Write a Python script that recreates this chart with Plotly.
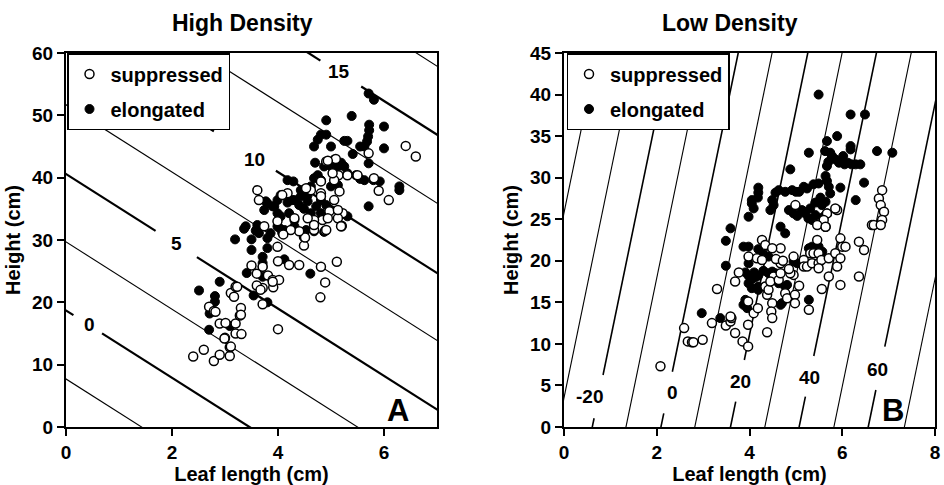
import plotly.graph_objects as go

# ---------------- Panel A (High Density) data ----------------
A_supp_x = [2.40, 2.60, 2.79, 2.90, 3.09, 3.09, 3.00, 3.20, 3.31, 2.90, 3.01, 3.20, 3.28, 3.30, 2.70, 2.79,
            3.11, 3.20, 3.17, 4.00, 3.71, 3.71, 3.91, 3.60, 3.60, 3.81, 3.90, 4.02, 3.71, 3.50, 4.00, 4.21,
            4.40, 4.81, 5.11, 4.89, 4.80, 3.99, 4.49, 4.49, 4.89, 5.20, 6.41, 6.60, 5.71, 5.09, 4.91, 5.14,
            5.31, 5.50, 5.81, 5.90, 6.09, 5.06, 5.22, 5.13, 5.20, 4.84, 4.91, 4.68, 4.68, 4.51, 4.40, 4.24,
            4.10, 4.18, 4.08, 3.64, 3.61, 3.74, 4.31, 4.81, 5.06, 5.03, 4.62, 4.81, 5.16, 3.99, 3.90, 3.67,
            3.23, 3.30, 2.82, 2.99, 3.11, 4.53, 4.81, 4.94, 4.97, 5.13, 4.56, 4.68, 4.94, 5.19]
A_supp_y = [11.3, 12.4, 10.6, 11.6, 11.4, 12.8, 14.3, 15.0, 14.9, 16.6, 16.7, 16.6, 17.9, 19.1, 19.3, 18.6,
            21.5, 22.5, 20.9, 15.7, 19.7, 22.3, 22.4, 22.7, 24.6, 24.3, 23.6, 23.6, 25.7, 25.9, 26.6, 26.0,
            26.0, 25.7, 26.5, 23.2, 20.8, 28.9, 29.1, 30.5, 31.5, 32.2, 45.1, 43.4, 43.9, 43.0, 42.6, 40.4,
            40.4, 40.4, 39.9, 37.9, 36.4, 36.4, 34.3, 33.5, 32.3, 33.2, 31.6, 33.2, 31.6, 30.4, 31.4, 31.6,
            30.9, 37.5, 37.2, 36.4, 38.0, 32.2, 33.5, 39.4, 39.6, 40.7, 38.0, 37.5, 37.8, 33.0, 23.3, 22.0,
            22.5, 18.0, 18.5, 14.2, 12.9, 38.3, 37.0, 42.7, 34.6, 34.8, 33.5, 32.4, 33.5, 32.2]

A_elong_x = [5.71, 5.81, 4.91, 5.39, 6.00, 5.72, 5.72, 5.70, 5.68, 5.63, 5.55, 6.00, 5.41, 5.71, 5.25, 5.31,
             5.00, 4.81, 4.75, 4.68, 4.91, 4.70, 5.19, 5.25, 5.31, 5.06, 5.00, 4.87, 5.47, 5.63, 5.92, 6.29,
             6.29, 5.71, 4.18, 4.29, 4.68, 4.81, 5.00, 5.13, 4.62, 4.43, 4.43, 4.31, 4.18, 4.56, 4.72, 4.81,
             4.91, 4.49, 4.62, 4.81, 5.31, 4.21, 4.31, 4.05, 3.99, 3.93, 3.99, 3.80, 3.74, 3.61, 3.64, 3.99,
             4.12, 4.08, 3.86, 3.80, 3.39, 3.60, 3.50, 3.19, 3.50, 3.80, 3.71, 3.71, 3.71, 4.12, 3.41, 3.71,
             3.54, 3.80, 4.61, 2.51, 2.90, 2.81, 2.81, 2.71, 2.70, 3.09, 4.68, 3.77, 3.90, 4.05, 4.27, 4.40,
             4.56, 4.75, 5.03, 5.13, 3.36, 3.58, 4.03, 4.31, 4.53, 4.87, 5.55, 5.80]
A_elong_y = [53.5, 52.5, 49.2, 49.9, 48.2, 48.5, 47.6, 46.6, 45.8, 45.0, 45.0, 44.7, 43.8, 42.3, 45.9, 45.9,
             45.0, 46.9, 46.1, 45.0, 46.9, 42.4, 42.4, 41.8, 40.7, 42.9, 41.8, 41.8, 40.4, 39.6, 39.4, 38.6,
             38.0, 35.4, 39.6, 39.4, 39.9, 39.6, 38.6, 38.8, 38.6, 38.0, 37.0, 36.4, 36.0, 36.2, 35.4, 36.4,
             35.6, 35.0, 34.3, 34.3, 33.8, 34.3, 33.2, 33.8, 34.3, 35.4, 36.4, 35.9, 34.8, 32.4, 31.1, 32.2,
             31.6, 31.1, 31.1, 30.3, 32.2, 31.7, 30.1, 30.1, 28.4, 28.7, 27.3, 26.3, 25.7, 26.9, 24.7, 24.1,
             21.1, 20.0, 24.6, 21.9, 23.3, 21.0, 20.1, 18.2, 15.6, 16.2, 31.4, 36.2, 35.4, 37.2, 36.4, 35.6,
             37.2, 40.4, 42.6, 41.8, 31.8, 31.5, 31.9, 32.2, 31.6, 31.3, 39.8, 39.6]

# contour lines of panel A: level, height at leaf length 0, common slope
A_levels = [-2.5, 0, 2.5, 5, 7.5, 10, 12.5, 15, 17.5]
A_intercepts = [7.7, 18.7, 29.7, 40.6, 51.7, 62.5, 73.7, 84.7, 95.7]
A_slope = -5.4
A_label_levels = [0, 5, 10, 15]
A_label_x = [0.45, 2.08, 3.55, 5.15]
A_label_y = [16.4, 29.5, 42.9, 57.0]
A_gap_lo = [0.14, 1.69, 2.79, 4.80]   # leaf length where line is interrupted
A_gap_hi = [0.68, 2.47, 3.96, 5.57]

# ---------------- Panel B (Low Density) data ----------------
B_supp_x = [2.08, 2.59, 2.67, 2.76, 2.79, 2.99, 3.19, 3.30, 3.49, 3.59, 3.61, 3.69, 3.59, 3.69, 3.77, 3.85,
            3.97, 3.97, 4.09, 4.18, 3.97, 4.38, 3.98, 4.16, 4.27, 4.34, 4.38, 4.41, 4.49, 4.47, 4.49, 4.52,
            4.45, 4.63, 4.67, 4.67, 4.67, 4.77, 4.81, 4.98, 4.98, 4.95, 4.95, 4.99, 5.17, 5.17, 5.24, 5.31,
            5.38, 5.28, 5.35, 5.49, 5.46, 5.49, 5.55, 5.49, 5.56, 5.49, 5.64, 5.67, 5.71, 5.71, 5.89, 5.85,
            5.89, 5.96, 6.00, 6.07, 5.96, 5.96, 6.36, 6.47, 6.36, 6.64, 6.86, 6.79, 6.83, 6.90, 6.86, 6.68,
            6.83, 4.88, 4.27, 4.34, 4.49, 5.85, 5.67, 5.60, 5.46, 5.64, 4.57, 4.72, 5.07, 4.85]
B_supp_y = [7.3, 11.9, 10.3, 10.2, 10.2, 10.5, 12.5, 16.6, 12.2, 12.7, 13.1, 11.3, 13.3, 17.5, 18.6, 10.3,
            9.7, 12.3, 13.7, 14.3, 15.1, 11.4, 20.5, 20.3, 20.1, 16.9, 15.9, 16.5, 14.9, 13.9, 13.1, 18.1,
            17.5, 17.7, 18.5, 19.7, 21.5, 16.1, 15.5, 15.9, 14.9, 18.3, 20.5, 26.7, 20.1, 19.3, 19.3, 20.9,
            20.9, 14.1, 19.7, 19.7, 22.5, 20.9, 20.1, 19.1, 16.6, 24.5, 24.1, 25.7, 20.3, 18.1, 26.1, 20.9,
            19.3, 22.7, 21.7, 21.7, 20.3, 17.1, 22.3, 21.3, 18.1, 24.3, 28.5, 27.5, 26.7, 25.9, 24.9, 24.3,
            24.3, 18.5, 22.5, 21.9, 21.5, 26.3, 25.7, 24.9, 24.3, 24.1, 20.2, 20.0, 17.0, 19.0]

B_elong_x = [5.49, 6.18, 6.49, 5.67, 5.89, 5.28, 6.75, 7.08, 6.18, 6.18, 5.63, 5.74, 5.78, 5.85, 5.93, 6.02,
             6.05, 6.12, 6.20, 6.29, 6.39, 5.70, 5.67, 6.47, 6.29, 4.88, 5.96, 5.64, 5.67, 5.49, 5.38, 5.24,
             5.17, 4.92, 5.00, 5.07, 4.63, 4.56, 4.77, 4.19, 4.19, 4.18, 4.05, 4.09, 4.05, 4.49, 4.52, 4.45,
             4.85, 4.95, 5.03, 5.13, 5.20, 5.27, 5.35, 5.42, 5.49, 5.56, 5.60, 4.67, 4.77, 3.98, 5.71, 5.74,
             5.53, 5.42, 5.31, 5.56, 5.64, 3.59, 3.49, 3.49, 3.87, 3.98, 3.98, 4.19, 4.26, 3.91, 3.98, 4.05,
             4.12, 4.19, 3.98, 4.05, 4.19, 4.19, 4.41, 4.49, 4.56, 4.63, 4.77, 4.81, 4.67, 4.70, 3.91, 3.87,
             3.95, 2.97, 3.37, 5.28, 5.28, 5.35, 5.42, 5.49, 4.95, 5.03, 5.57, 4.41, 4.30, 4.10]
B_elong_y = [40.0, 37.6, 37.6, 34.4, 35.0, 33.0, 33.2, 33.0, 33.8, 33.4, 33.2, 33.0, 32.6, 32.2, 31.8, 32.6,
             31.6, 31.8, 31.6, 31.6, 31.6, 31.9, 31.4, 29.4, 27.3, 31.0, 28.8, 30.2, 29.6, 29.3, 29.2, 28.7,
             28.9, 28.5, 28.3, 28.3, 28.5, 28.2, 28.3, 28.8, 28.2, 27.6, 26.9, 26.3, 27.3, 27.3, 26.7, 26.1,
             26.1, 25.7, 25.4, 26.1, 25.7, 25.1, 24.9, 25.5, 25.1, 24.9, 25.3, 24.1, 23.3, 25.3, 28.9, 28.1,
             27.6, 27.0, 26.3, 26.7, 27.1, 23.9, 22.4, 19.4, 21.7, 21.7, 19.7, 21.4, 21.1, 18.6, 18.2, 17.8,
             18.0, 18.2, 17.3, 16.7, 16.9, 16.5, 18.5, 18.7, 18.5, 17.3, 16.9, 17.1, 14.7, 14.9, 15.3, 14.7,
             14.3, 13.7, 13.1, 15.3, 21.5, 21.7, 21.5, 21.7, 19.9, 19.7, 21.1, 20.5, 18.8, 18.6]

# contour lines of panel B: level, leaf length at height 0, common slope (height per cm)
B_levels = [-40, -30, -20, -10, 0, 10, 20, 30, 40, 50, 60, 70]
B_x0 = [-0.955, -0.13, 0.61, 1.336, 2.09, 2.82, 3.59, 4.33, 5.07, 5.82, 6.56, 7.34]
B_slope = 27.0
B_label_levels = [-20, 0, 20, 40, 60]
B_label_x = [0.56, 2.33, 3.81, 5.30, 6.75]
B_label_y = [3.65, 4.13, 5.45, 5.93, 6.94]
B_gap_lo = [1.05, 1.65, 3.05, 3.65, 4.45]   # height where line is interrupted
B_gap_hi = [6.26, 6.65, 8.06, 8.54, 9.66]

A_xrange = [0, 7]
A_yrange = [0, 60]
B_xrange = [0, 8]
B_yrange = [0, 45]

FONT = "Liberation Sans, Arial, Helvetica, sans-serif"
W, H = 944, 485

fig = go.Figure()

# ---- panel A contour lines ----
for lev, b in zip(A_levels, A_intercepts):
    x_end = A_xrange[1] + 0.5
    if lev in A_label_levels:
        i = A_label_levels.index(lev)
        xs = [-0.5, A_gap_lo[i], None, A_gap_hi[i], x_end]
        width = 2.2
    else:
        xs = [-0.5, x_end]
        width = 1.1
    ys = [None if x is None else b + A_slope * x for x in xs]
    fig.add_trace(go.Scatter(x=xs, y=ys, mode="lines", line=dict(color="black", width=width),
                             showlegend=False, hoverinfo="skip", xaxis="x", yaxis="y"))

# ---- panel B contour lines ----
for lev, x0 in zip(B_levels, B_x0):
    y_end = B_yrange[1] + 5
    if lev in B_label_levels:
        i = B_label_levels.index(lev)
        ys = [-5, B_gap_lo[i], None, B_gap_hi[i], y_end]
        width = 1.6
    else:
        ys = [-5, y_end]
        width = 1.1
    xs = [None if y is None else x0 + y / B_slope for y in ys]
    fig.add_trace(go.Scatter(x=xs, y=ys, mode="lines", line=dict(color="black", width=width),
                             showlegend=False, hoverinfo="skip", xaxis="x2", yaxis="y2"))

open_marker = dict(symbol="circle", size=9, color="white", line=dict(color="black", width=1.5))
fill_marker = dict(symbol="circle", size=9, color="black", line=dict(color="black", width=1))

# ---- panel A points ----
fig.add_trace(go.Scatter(x=A_elong_x, y=A_elong_y, mode="markers", marker=fill_marker,
                         name="elongated", legendgroup="e", legendrank=2, xaxis="x", yaxis="y", legend="legend"))
fig.add_trace(go.Scatter(x=A_supp_x, y=A_supp_y, mode="markers", marker=open_marker,
                         name="suppressed", legendgroup="s", legendrank=1, xaxis="x", yaxis="y", legend="legend"))
# ---- panel B points ----
fig.add_trace(go.Scatter(x=B_elong_x, y=B_elong_y, mode="markers", marker=fill_marker,
                         name="elongated", legendgroup="e2", legendrank=2, xaxis="x2", yaxis="y2", legend="legend2"))
fig.add_trace(go.Scatter(x=B_supp_x, y=B_supp_y, mode="markers", marker=open_marker,
                         name="suppressed", legendgroup="s2", legendrank=1, xaxis="x2", yaxis="y2", legend="legend2"))

def px_x(p):
    return p / W

def px_y(p):
    return 1 - p / H

axis_common = dict(showgrid=False, zeroline=False, showline=True, linecolor="black", linewidth=2,
                   mirror=True, ticks="outside", ticklen=7, tickwidth=2, tickcolor="black",
                   automargin=False,
                   tickfont=dict(family=FONT, size=19, color="black", weight="bold"),
                   title_font=dict(family=FONT, size=20, color="black", weight="bold"))

legend_common = dict(xanchor="left", yanchor="top", bgcolor="white", bordercolor="black",
                     borderwidth=1.5, tracegroupgap=6, itemwidth=32,
                     font=dict(family=FONT, size=20, color="black", weight="bold"))

fig.update_layout(
    width=W, height=H,
    margin=dict(l=0, r=0, t=0, b=0, autoexpand=False),
    paper_bgcolor="white", plot_bgcolor="white",
    font=dict(family=FONT, color="black"),
    xaxis=dict(domain=[px_x(66), px_x(437)], range=A_xrange, tickvals=[0, 2, 4, 6],
               title=dict(text="Leaf length (cm)", standoff=4), anchor="y", **axis_common),
    yaxis=dict(domain=[px_y(427), px_y(53)], range=A_yrange, tickvals=list(range(0, 61, 10)),
               title=dict(text="Height (cm)", standoff=6), anchor="x", **axis_common),
    xaxis2=dict(domain=[px_x(564), px_x(935)], range=B_xrange, tickvals=[0, 2, 4, 6, 8],
                title=dict(text="Leaf length (cm)", standoff=4), anchor="y2", **axis_common),
    yaxis2=dict(domain=[px_y(427), px_y(53)], range=B_yrange, tickvals=list(range(0, 46, 5)),
                title=dict(text="Height (cm)", standoff=6), anchor="x2", **axis_common),
    legend=dict(x=px_x(67), y=px_y(53), **legend_common),
    legend2=dict(x=px_x(566.5), y=px_y(53), **legend_common),
)

annotations = []
for lev, x, y in zip(A_label_levels, A_label_x, A_label_y):
    annotations.append(dict(x=x, y=y, xref="x", yref="y", text=f"<b>{lev}</b>", showarrow=False,
                            xanchor="center", yanchor="middle",
                            font=dict(family=FONT, size=19, color="black")))
for lev, x, y in zip(B_label_levels, B_label_x, B_label_y):
    annotations.append(dict(x=x, y=y, xref="x2", yref="y2", text=f"<b>{lev}</b>", showarrow=False,
                            xanchor="center", yanchor="middle",
                            font=dict(family=FONT, size=19, color="black")))
annotations += [
    dict(x=px_x(243), y=px_y(23), xref="paper", yref="paper", text="<b>High Density</b>", showarrow=False,
         xanchor="center", yanchor="middle", font=dict(family=FONT, size=23, color="black")),
    dict(x=px_x(730), y=px_y(23), xref="paper", yref="paper", text="<b>Low Density</b>", showarrow=False,
         xanchor="center", yanchor="middle", font=dict(family=FONT, size=23, color="black")),
    dict(x=px_x(398), y=px_y(410), xref="paper", yref="paper", text="<b>A</b>", showarrow=False,
         xanchor="center", yanchor="middle", font=dict(family=FONT, size=31, color="black")),
    dict(x=px_x(893), y=px_y(410), xref="paper", yref="paper", text="<b>B</b>", showarrow=False,
         xanchor="center", yanchor="middle", font=dict(family=FONT, size=31, color="black")),
]
fig.update_layout(annotations=annotations)

fig.write_html("out.html", config={"displayModeBar": False},
               post_script="document.body.style.margin='0px';")
